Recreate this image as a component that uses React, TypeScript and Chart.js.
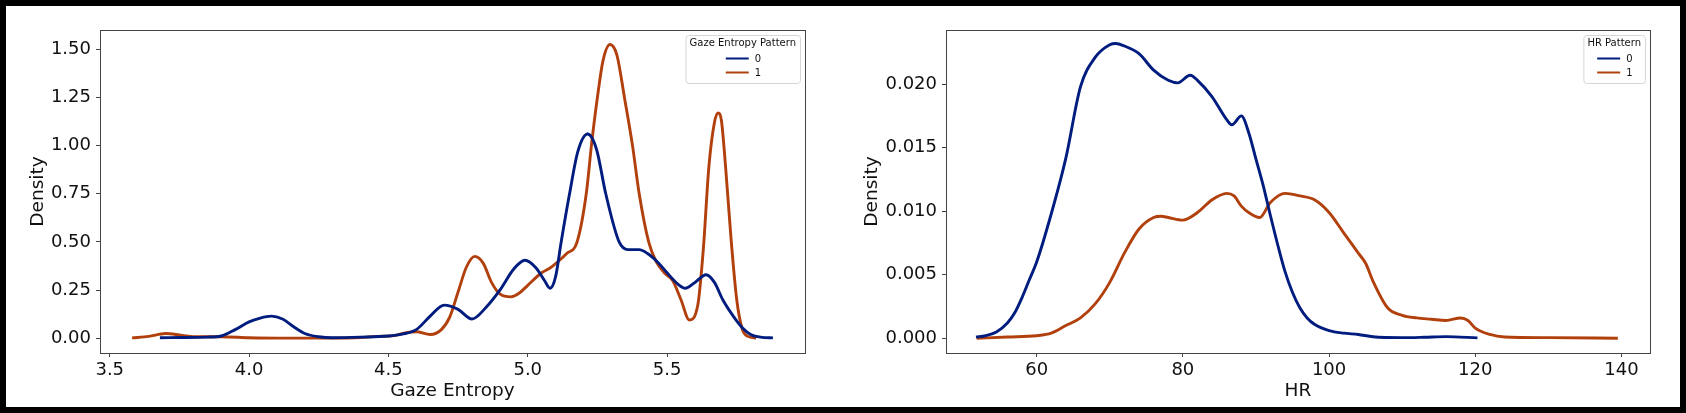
import React, { useEffect, useRef } from 'react';
import { Chart, registerables } from 'chart.js';

Chart.register(...registerables);

// Gaze Entropy density curves (pattern 0 / 1)
const gazeX0 = [3.68, 3.75, 3.85, 3.9, 3.95, 4.0, 4.04, 4.08, 4.12, 4.16, 4.2, 4.25, 4.3, 4.4, 4.5, 4.55, 4.6, 4.65, 4.7, 4.75, 4.8, 4.85, 4.9, 4.95, 4.99, 5.03, 5.06, 5.08, 5.1, 5.12, 5.15, 5.18, 5.215, 5.247, 5.28, 5.328, 5.36, 5.4, 5.43, 5.47, 5.5, 5.54, 5.565, 5.6, 5.64, 5.67, 5.7, 5.74, 5.77, 5.8, 5.84, 5.88];
const gazeY0 = [0.003, 0.004, 0.006, 0.012, 0.045, 0.085, 0.105, 0.115, 0.1, 0.06, 0.025, 0.008, 0.003, 0.006, 0.012, 0.022, 0.045, 0.115, 0.172, 0.15, 0.1, 0.16, 0.25, 0.36, 0.405, 0.365, 0.3, 0.26, 0.32, 0.5, 0.75, 0.97, 1.06, 0.98, 0.75, 0.5, 0.46, 0.46, 0.44, 0.39, 0.34, 0.28, 0.26, 0.29, 0.33, 0.29, 0.2, 0.11, 0.055, 0.02, 0.005, 0.002];
const gazeX1 = [3.58, 3.64, 3.7, 3.76, 3.82, 3.9, 4.0, 4.1, 4.2, 4.3, 4.4, 4.46, 4.52, 4.56, 4.6, 4.65, 4.69, 4.72, 4.75, 4.78, 4.81, 4.84, 4.87, 4.9, 4.94, 4.97, 5.0, 5.05, 5.08, 5.11, 5.14, 5.177, 5.21, 5.23, 5.25, 5.27, 5.295, 5.32, 5.347, 5.376, 5.4, 5.434, 5.46, 5.49, 5.52, 5.55, 5.58, 5.61, 5.63, 5.65, 5.67, 5.683, 5.695, 5.71, 5.73, 5.75, 5.77, 5.79, 5.82];
const gazeY1 = [0.002, 0.01, 0.025, 0.015, 0.008, 0.008, 0.003, 0.001, 0.001, 0.001, 0.004, 0.01, 0.014, 0.028, 0.034, 0.02, 0.045, 0.11, 0.24, 0.37, 0.425, 0.39, 0.29, 0.23, 0.215, 0.235, 0.275, 0.34, 0.365, 0.4, 0.44, 0.5, 0.75, 1.02, 1.25, 1.44, 1.525, 1.47, 1.25, 1.0, 0.75, 0.5, 0.4, 0.34, 0.3, 0.2, 0.095, 0.17, 0.46, 0.89, 1.12, 1.17, 1.13, 0.89, 0.51, 0.2, 0.047, 0.01, 0.001];

// HR density curves (pattern 0 / 1)
const hrX0 = [51.7, 53, 54.5, 56, 57, 58, 59, 60, 62, 64, 66, 68, 70, 70.8, 72, 74, 76, 78, 79.3, 81, 82, 84, 86, 86.7, 88, 89, 90, 91, 92, 93, 94, 95, 96, 97, 98, 100, 102, 104, 106, 110, 113, 116, 120.3];
const hrY0 = [0.0001, 0.0002, 0.0005, 0.0012, 0.002, 0.0032, 0.0046, 0.006, 0.0098, 0.0142, 0.0198, 0.0221, 0.0231, 0.0232, 0.023, 0.0224, 0.0211, 0.0203, 0.0201, 0.0207, 0.0203, 0.019, 0.0172, 0.0168, 0.0175, 0.0162, 0.0141, 0.012, 0.0096, 0.0073, 0.0052, 0.0036, 0.0024, 0.0016, 0.0011, 0.0006, 0.0004, 0.0003, 0.00012, 0.00005, 0.00008, 0.00013, 0.00003];
const hrX1 = [51.8, 56, 60, 62, 64, 66, 68, 70, 72, 74, 76, 77, 78, 80, 82, 84, 86, 87, 88, 89, 90.5, 92, 94, 96, 98, 100, 102, 104, 105, 106, 108, 110, 112, 114, 116, 118, 119, 120, 122, 124, 130, 139.5];
const hrY1 = [0.0, 0.0001, 0.0002, 0.0004, 0.001, 0.0016, 0.0027, 0.0044, 0.0067, 0.0086, 0.0095, 0.0096, 0.0095, 0.0093, 0.0099, 0.0109, 0.0114, 0.0112, 0.0104, 0.0099, 0.0095, 0.0107, 0.0114, 0.0112, 0.0109, 0.0099, 0.0083, 0.0067, 0.0059, 0.0045, 0.0024, 0.0018, 0.0016, 0.0015, 0.0014, 0.0016, 0.0014, 0.0008, 0.0003, 0.0001, 0.00005, 0.0];

const patternLabels = ['0', '1'];
const gazeXTicks = [3.5, 4.0, 4.5, 5.0, 5.5];
const gazeYTicks = [0, 0.25, 0.5, 0.75, 1.0, 1.25, 1.5];
const hrXTicks = [60, 80, 100, 120, 140];
const hrYTicks = [0, 0.005, 0.01, 0.015, 0.02];

const colors = ['#001c7f', '#b1400d'];
const FONT = "'DejaVu Sans', sans-serif";

// spines + matplotlib-like legend box
const framePlugin = {
  id: 'frame',
  afterDraw(chart: any, _args: any, opts: any) {
    const { ctx, chartArea: a } = chart;
    ctx.save();
    ctx.strokeStyle = '#444';
    ctx.lineWidth = 1;
    ctx.strokeRect(Math.round(a.left) + 0.5, Math.round(a.top) + 0.5, Math.round(a.right - a.left), Math.round(a.bottom - a.top));

    ctx.font = `10px ${FONT}`;
    const tw = ctx.measureText(opts.title).width;
    const w = tw + 8;
    const h = 48;
    const x = a.right - 5 - w;
    const y = a.top + 5;
    ctx.beginPath();
    ctx.roundRect(x + 0.5, y + 0.5, w, h, 3);
    ctx.fillStyle = 'rgba(255,255,255,0.8)';
    ctx.fill();
    ctx.strokeStyle = '#d6d6d6';
    ctx.stroke();

    ctx.fillStyle = '#111';
    ctx.textAlign = 'center';
    ctx.textBaseline = 'middle';
    ctx.fillText(opts.title, x + w / 2, y + 8.5);
    chart.data.datasets.forEach((ds: any, i: number) => {
      const ry = y + 23.5 + i * 14;
      const bx = x + w / 2 - 17;
      ctx.strokeStyle = ds.borderColor;
      ctx.lineWidth = 2;
      ctx.beginPath();
      ctx.moveTo(bx, ry);
      ctx.lineTo(bx + 23, ry);
      ctx.stroke();
      ctx.fillStyle = '#111';
      ctx.textAlign = 'left';
      ctx.fillText(ds.label, bx + 29, ry + 0.5);
    });
    ctx.restore();
  },
};

type Props = {
  xs: number[][];
  ys: number[][];
  xRange: [number, number];
  yRange: [number, number];
  xTicks: number[];
  yTicks: number[];
  xDigits: number;
  yDigits: number;
  xTitle: string;
  legendTitle: string;
  yAxisWidth: number;
  rightPad: number;
  yTitlePad: number;
  left: number;
};

const DensityChart = (p: Props) => {
  const chartRef = useRef<HTMLCanvasElement>(null);
  const chartInstanceRef = useRef<Chart | null>(null);

  useEffect(() => {
    const canvas = chartRef.current;
    if (!canvas) return;
    const ctx = canvas.getContext('2d');
    if (!ctx) return;

    const tickFont = { family: FONT, size: 18 };
    const titleFont = { family: FONT, size: 18.5 };
    const grid = { drawOnChartArea: false, drawTicks: true, tickLength: 4, color: '#444', lineWidth: 1 };

    chartInstanceRef.current = new Chart(ctx, {
      type: 'scatter',
      data: {
        datasets: p.xs.map((xArr, i) => ({
          label: patternLabels[i],
          data: xArr.map((x, j) => ({ x, y: p.ys[i][j] })),
          borderColor: colors[i],
          backgroundColor: colors[i],
          borderWidth: 2.9,
          showLine: true,
          pointRadius: 0,
          cubicInterpolationMode: 'monotone',
          fill: false,
        })),
      },
      options: {
        responsive: false,
        animation: false,
        layout: { padding: { left: 0, top: 24, right: p.rightPad, bottom: 0 } },
        plugins: {
          legend: { display: false },
          tooltip: { enabled: false },
          frame: { title: p.legendTitle },
        } as any,
        scales: {
          x: {
            type: 'linear',
            min: p.xRange[0],
            max: p.xRange[1],
            afterBuildTicks: (s: any) => { s.ticks = p.xTicks.map((v) => ({ value: v })); },
            afterFit: (s: any) => { s.height = 54; },
            ticks: { font: tickFont, color: '#111', padding: 3, maxRotation: 0, autoSkip: false, callback: (v: any) => Number(v).toFixed(p.xDigits) },
            grid,
            border: { display: false },
            title: { display: true, text: p.xTitle, font: titleFont, color: '#111', padding: { top: 0, bottom: 5 } },
          },
          y: {
            type: 'linear',
            min: p.yRange[0],
            max: p.yRange[1],
            afterBuildTicks: (s: any) => { s.ticks = p.yTicks.map((v) => ({ value: v })); },
            afterFit: (s: any) => { s.width = p.yAxisWidth; },
            ticks: { font: tickFont, color: '#111', padding: 5, autoSkip: false, callback: (v: any) => Number(v).toFixed(p.yDigits) },
            grid,
            border: { display: false },
            title: { display: true, text: 'Density', font: titleFont, color: '#111', padding: { top: p.yTitlePad, bottom: 0 } },
          },
        },
      },
      plugins: [framePlugin],
    } as any);

    return () => {
      if (chartInstanceRef.current) {
        chartInstanceRef.current.destroy();
      }
    };
  }, []);

  return (
    <canvas
      ref={chartRef}
      width={837}
      height={401}
      style={{ position: 'absolute', left: p.left, top: 0, width: 837, height: 401 }}
    />
  );
};

const App = () => (
  <div
    style={{
      position: 'fixed',
      left: 0,
      top: 0,
      width: 1686,
      height: 413,
      boxSizing: 'border-box',
      border: '6px solid #000',
      background: '#fff',
    }}
  >
    <DensityChart
      xs={[gazeX0, gazeX1]}
      ys={[gazeY0, gazeY1]}
      xRange={[3.465, 5.995]}
      yRange={[-0.0763, 1.6]}
      xTicks={gazeXTicks}
      yTicks={gazeYTicks}
      xDigits={1}
      yDigits={2}
      xTitle="Gaze Entropy"
      legendTitle="Gaze Entropy Pattern"
      yAxisWidth={94}
      rightPad={38}
      yTitlePad={21}
      left={0}
    />
    <DensityChart
      xs={[hrX0, hrX1]}
      ys={[hrY0, hrY1]}
      xRange={[47.6, 143.9]}
      yRange={[-0.00116, 0.02426]}
      xTicks={hrXTicks}
      yTicks={hrYTicks}
      xDigits={0}
      yDigits={3}
      xTitle="HR"
      legendTitle="HR Pattern"
      yAxisWidth={103}
      rightPad={30}
      yTitlePad={18}
      left={837}
    />
  </div>
);

export default App;
